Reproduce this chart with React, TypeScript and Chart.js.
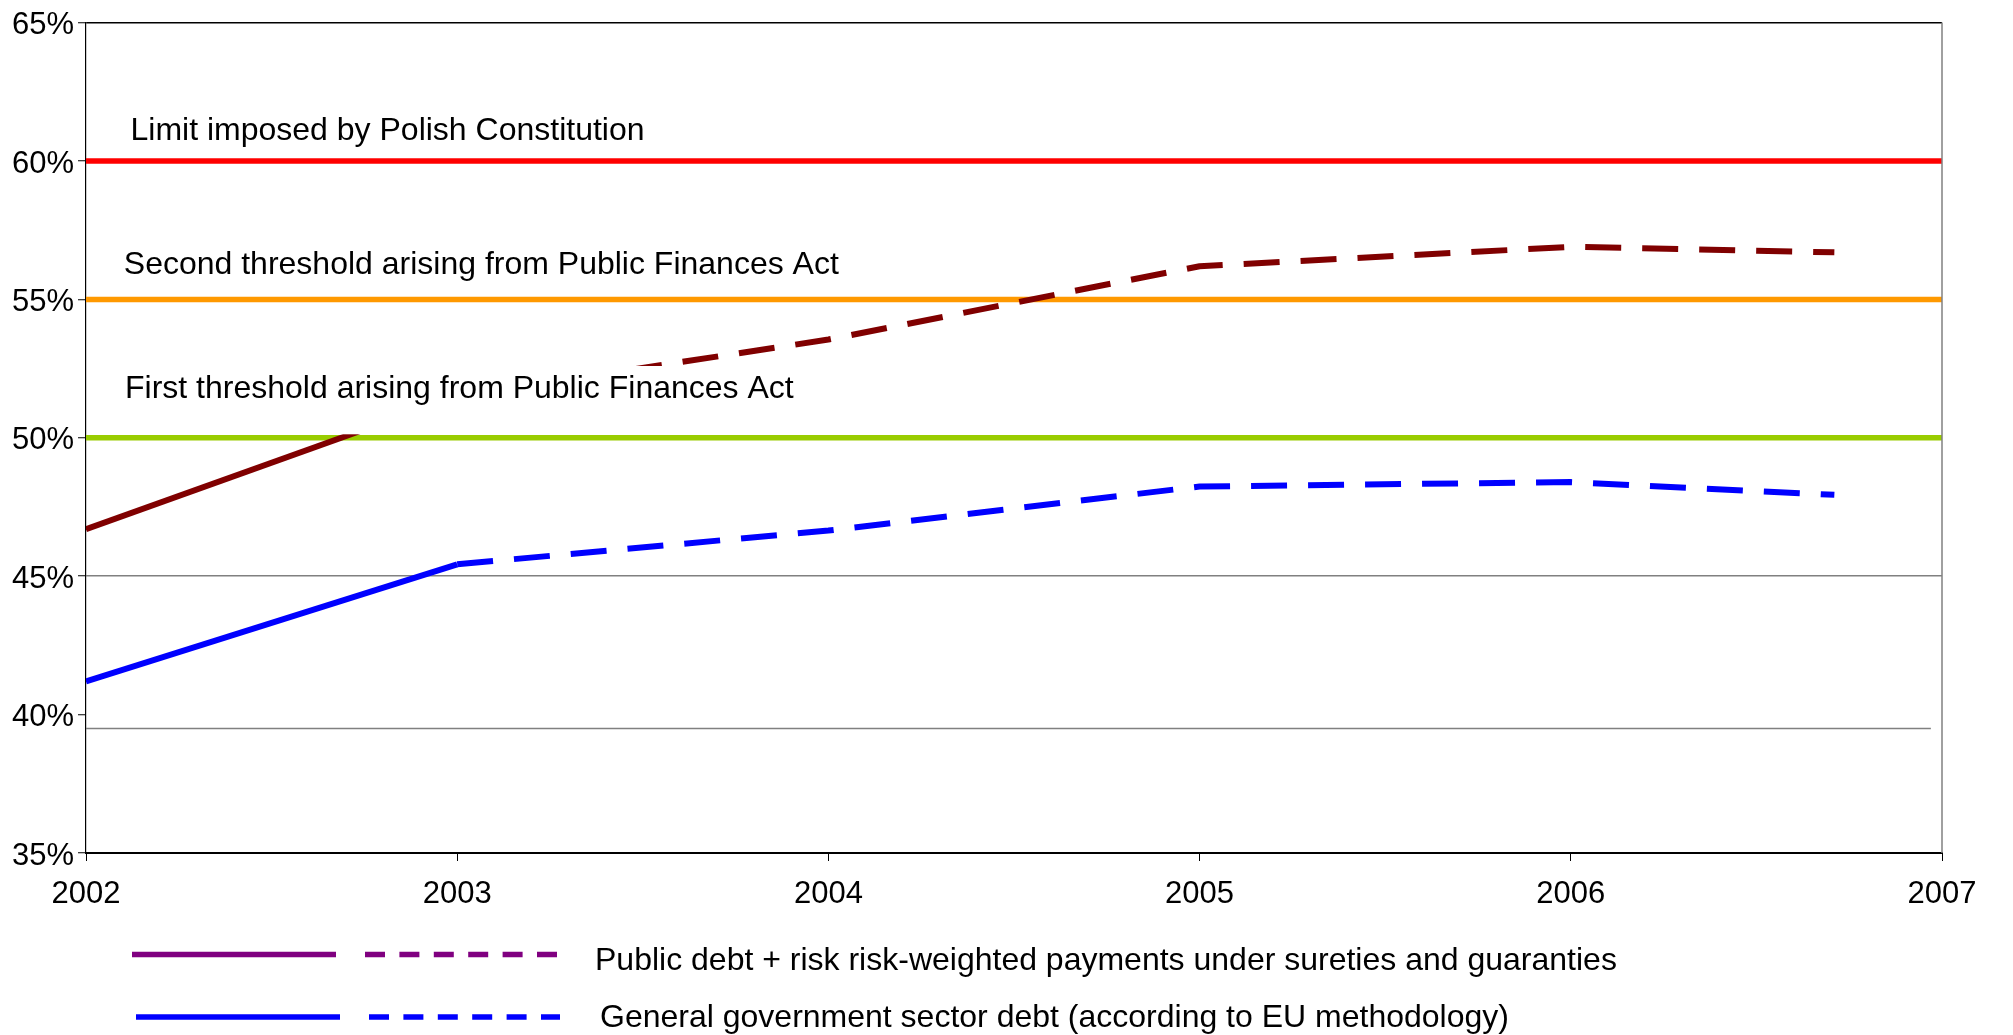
import React, { useEffect, useRef } from 'react';
import { Chart, registerables } from 'chart.js';

Chart.register(...registerables);

// ---------- data ----------
const years = [2002, 2003, 2004, 2005, 2006, 2006.71];
const publicDebtWithGuarantees = [46.7, 51.5, 53.55, 56.2, 56.9, 56.7];
const generalGovernmentDebt = [41.2, 45.43, 46.65, 48.24, 48.4, 47.94];
const projectionStartYear = 2003;

const thresholdValues = [60, 55, 50];
const thresholdLabels = [
  'Limit imposed by Polish Constitution',
  'Second threshold arising from Public Finances Act',
  'First threshold arising from Public Finances Act',
];
const thresholdColors = ['#FF0000', '#FF9900', '#99CC00'];

const xMin = 2002;
const xMax = 2007;
const yMin = 35;
const yMax = 65;
const yStep = 5;
const yGridValue = 45;

const lowerRuleValue = 39.5;
const lowerRuleEnd = 2006.97;

const legendLabels = [
  'Public debt + risk risk-weighted payments under sureties and guaranties',
  'General government sector debt (according to EU methodology)',
];
const legendColors = ['#800080', '#0000FF'];

const FONT = "'Liberation Sans', Arial, sans-serif";

// ---------- plugins ----------
const labelBoxesPlugin = {
  id: 'thresholdLabelBoxes',
  afterDatasetsDraw(chart: any) {
    const { ctx, scales } = chart;
    const x0 = scales.x.getPixelForValue(xMin);
    const dx = [44.5, 37.8, 39];
    const rise = [21, 25.3, 40.3];
    ctx.save();
    ctx.font = `32px ${FONT}`;
    thresholdValues.forEach((v, i) => {
      const ly = scales.y.getPixelForValue(v);
      const tx = x0 + dx[i];
      const base = ly - rise[i];
      const w = ctx.measureText(thresholdLabels[i]).width;
      ctx.fillStyle = '#FFFFFF';
      const top = base - 31.5;
      const bottom = ly - 3.5;
      ctx.fillRect(tx - 8, top, w + 16, bottom - top);
      ctx.fillStyle = '#000000';
      ctx.textBaseline = 'alphabetic';
      ctx.textAlign = 'left';
      ctx.fillText(thresholdLabels[i], tx, base);
    });
    ctx.restore();
  },
};

const frameAndLegendPlugin = {
  id: 'frameAndLegend',
  afterDraw(chart: any) {
    const { ctx, chartArea } = chart;
    ctx.save();
    // right frame
    ctx.strokeStyle = '#808080';
    ctx.lineWidth = 1.5;
    ctx.beginPath();
    ctx.moveTo(chartArea.right, chartArea.top);
    ctx.lineTo(chartArea.right, chartArea.bottom);
    ctx.stroke();

    // legend
    const rows = [
      { y: 954.5, solid: [132, 336], dashed: [365, 557], textX: 595, base: 970 },
      { y: 1017, solid: [136, 340], dashed: [369, 560], textX: 600, base: 1026.5 },
    ];
    rows.forEach((r, i) => {
      ctx.strokeStyle = legendColors[i];
      ctx.lineWidth = 5.3;
      ctx.lineCap = 'butt';
      ctx.setLineDash([]);
      ctx.beginPath();
      ctx.moveTo(r.solid[0], r.y);
      ctx.lineTo(r.solid[1], r.y);
      ctx.stroke();
      ctx.setLineDash([20, 14.4]);
      ctx.beginPath();
      ctx.moveTo(r.dashed[0], r.y);
      ctx.lineTo(r.dashed[1], r.y);
      ctx.stroke();
      ctx.setLineDash([]);
      ctx.fillStyle = '#000000';
      ctx.font = `32px ${FONT}`;
      ctx.textAlign = 'left';
      ctx.textBaseline = 'alphabetic';
      ctx.fillText(legendLabels[i], r.textX, r.base);
    });
    ctx.restore();
  },
};

export default function App() {
  const canvasRef = useRef<HTMLCanvasElement | null>(null);

  useEffect(() => {
    const canvas = canvasRef.current;
    if (!canvas) return;

    const dashAfterStart = (ctx: any) =>
      ctx.p0.parsed.x >= projectionStartYear ? [36, 21] : undefined;

    const datasets: any[] = [
      {
        label: legendLabels[0],
        data: years.map((x, i) => ({ x, y: publicDebtWithGuarantees[i] })),
        borderColor: '#800000',
        borderWidth: 6,
        pointRadius: 0,
        tension: 0,
        borderJoinStyle: 'round',
        segment: { borderDash: dashAfterStart },
      },
      {
        label: legendLabels[1],
        data: years.map((x, i) => ({ x, y: generalGovernmentDebt[i] })),
        borderColor: '#0000FF',
        borderWidth: 6,
        pointRadius: 0,
        tension: 0,
        borderJoinStyle: 'round',
        segment: { borderDash: dashAfterStart },
      },
      ...thresholdValues.map((v, i) => ({
        label: thresholdLabels[i],
        data: [
          { x: xMin, y: v },
          { x: xMax, y: v },
        ],
        borderColor: thresholdColors[i],
        borderWidth: 5.5,
        pointRadius: 0,
      })),
      {
        label: 'rule',
        data: [
          { x: xMin, y: lowerRuleValue },
          { x: lowerRuleEnd, y: lowerRuleValue },
        ],
        borderColor: '#808080',
        borderWidth: 1.5,
        pointRadius: 0,
      },
    ];

    const chart = new Chart(canvas, {
      type: 'line',
      data: { datasets },
      options: {
        animation: false,
        responsive: false,
        devicePixelRatio: 1,
        layout: { padding: { top: 17.5, right: 71, left: 0, bottom: 0 } },
        plugins: {
          legend: { display: false },
          tooltip: { enabled: false },
        },
        scales: {
          x: {
            type: 'linear',
            min: xMin,
            max: xMax,
            afterFit: (s: any) => {
              s.height = 182;
            },
            ticks: {
              stepSize: 1,
              color: '#000',
              font: { family: FONT, size: 31 },
              padding: 15,
              maxRotation: 0,
              autoSkip: false,
              callback: (v: any) => String(v),
            },
            grid: {
              drawOnChartArea: false,
              tickLength: 8,
              tickColor: '#000',
              tickWidth: 1,
            },
            border: { color: '#000', width: 2 },
          },
          y: {
            type: 'linear',
            min: yMin,
            max: yMax,
            afterFit: (s: any) => {
              s.width = 86;
            },
            ticks: {
              stepSize: yStep,
              color: '#000',
              font: { family: FONT, size: 31 },
              padding: 4,
              labelOffset: 3,
              callback: (v: any) => `${v}%`,
            },
            grid: {
              color: (c: any) =>
                c.tick && c.tick.value === yMax
                  ? '#000'
                  : c.tick && c.tick.value === yGridValue
                  ? '#808080'
                  : 'rgba(0,0,0,0)',
              lineWidth: 1.5,
              tickLength: 8,
              tickColor: '#000',
              tickWidth: 1,
            },
            border: { color: '#000', width: 1.2 },
          },
        },
      },
      plugins: [labelBoxesPlugin, frameAndLegendPlugin],
    });

    return () => chart.destroy();
  }, []);

  return (
    <div style={{ position: 'absolute', left: 0, top: 0, width: 2013, height: 1035, background: '#fff' }}>
      <canvas ref={canvasRef} width={2013} height={1035} style={{ display: 'block', width: 2013, height: 1035 }} />
    </div>
  );
}
